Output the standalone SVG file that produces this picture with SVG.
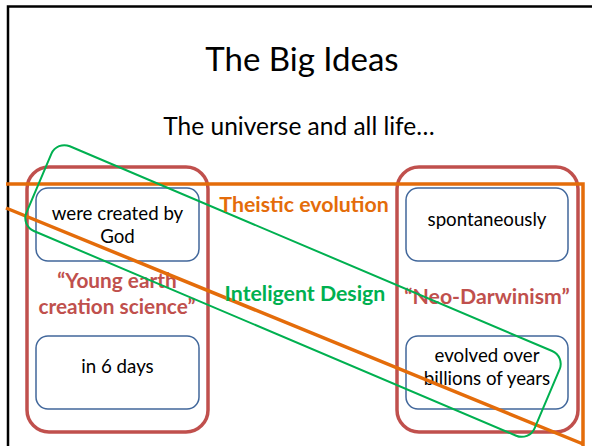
<svg xmlns="http://www.w3.org/2000/svg" width="592" height="446" viewBox="0 0 592 446">
<style>
.grp{fill:none;stroke:#C0504D;stroke-width:3.5}
.box{fill:#FFFFFF;stroke:#41679B;stroke-width:1.5}
.t{font-family:Lato,"Open Sans",sans-serif;fill:#000;text-anchor:middle}
.b{font-family:Lato,"Open Sans",sans-serif;font-weight:bold;text-anchor:middle;font-size:21.3px}
.body{font-size:18.7px}
</style>
<rect x="0" y="0" width="592" height="446" fill="#FFFFFF"/>
<rect id="slide" x="8" y="6.5" width="600" height="460" fill="none" stroke="#000" stroke-width="2.5"/>
<g id="title"><text class="t" x="302" y="71" font-size="33">The Big Ideas</text></g>
<g id="subtitle"><text class="t" x="299" y="135" font-size="24.5">The universe and all life…</text></g>
<g id="young-earth">
<rect class="grp" x="27" y="167" width="181" height="265" rx="22"/>
<text class="b" fill="#C0504D" x="117" y="287.5" style="font-size:20.8px">“Young earth</text>
<text class="b" fill="#C0504D" x="117" y="313.5" style="font-size:20.8px">creation science”</text>
</g>
<g id="neo-darwinism">
<rect class="grp" x="397" y="167" width="181" height="265" rx="22"/>
<text class="b" fill="#C0504D" x="487" y="304">“Neo-Darwinism”</text>
</g>
<g id="created">
<rect class="box" x="36" y="188" width="163" height="73" rx="12"/>
<text class="t body" x="117.5" y="220">were created by</text>
<text class="t body" x="117.5" y="243">God</text>
</g>
<g id="days">
<rect class="box" x="36" y="336" width="163" height="73" rx="12"/>
<text class="t body" x="117.5" y="373">in 6 days</text>
</g>
<g id="spontaneously">
<rect class="box" x="406" y="188" width="162" height="73" rx="12"/>
<text class="t body" x="487" y="226">spontaneously</text>
</g>
<g id="evolved">
<rect class="box" x="406" y="336" width="162" height="73" rx="12"/>
<text class="t body" x="487" y="362">evolved over</text>
<text class="t body" x="487" y="385">billions of years</text>
</g>
<g id="connectors">
<path id="theistic" d="M6,184 H583 V446 M6,208 L583,444" fill="none" stroke="#E46C0A" stroke-width="3.5"/>
<rect id="intelligent" x="17" y="245" width="552" height="92" rx="14" transform="rotate(23 293 291)" fill="none" stroke="#00B050" stroke-width="2"/>
</g>
<g id="labels">
<text class="b" fill="#E46C0A" x="304" y="212">Theistic evolution</text>
<text class="b" fill="#00B050" x="305" y="301">Inteligent Design</text>
</g>
</svg>
